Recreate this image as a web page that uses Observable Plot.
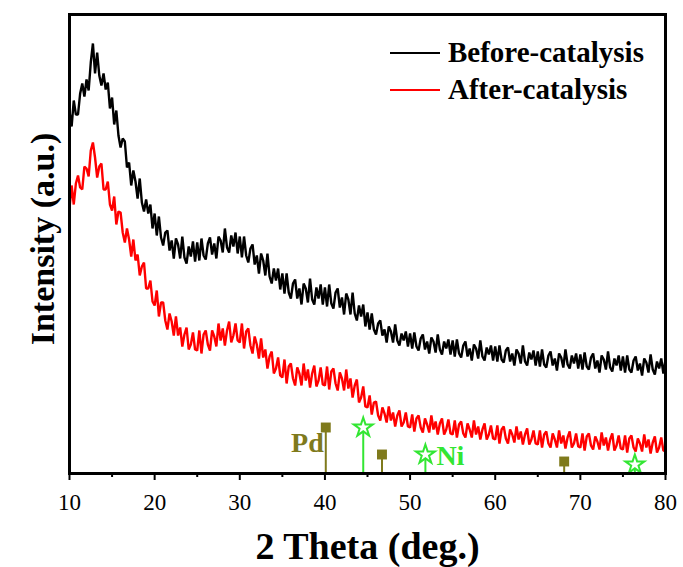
<!DOCTYPE html>
<html>
<head>
<meta charset="utf-8">
<script src="https://cdn.jsdelivr.net/npm/d3@7"></script>
<script src="https://cdn.jsdelivr.net/npm/@observablehq/plot@0.6"></script>
<style>
  html, body { margin: 0; padding: 0; background: #fff; }
  #wrap { position: relative; width: 683px; height: 567px; font-family: "Liberation Serif", "Times New Roman", serif; }
  #legend { position: absolute; left: 390px; top: 34px; }
  .row { display: flex; align-items: center; height: 37px; }
  .swatch { width: 50px; height: 2px; margin-right: 8px; }
  .lab { font-size: 29px; font-weight: bold; line-height: normal; color: #000; white-space: nowrap; }
</style>
</head>
<body>
<div id="wrap"></div>
<script>
// 2θ sampling grid
const twoThetaStart = 10;
const twoThetaStep = 0.25;

// Intensity (a.u.) before catalysis
const beforeIntensity = [
  362,347,373,359,359,380,390,377,394,383,411,430,
  400,421,398,388,400,384,391,365,376,349,363,338,
  326,335,332,306,311,288,303,292,275,295,271,262,
  274,260,269,245,260,238,257,236,228,241,243,223,
  233,215,235,229,215,237,216,210,227,217,232,212,
  231,213,235,218,214,230,236,219,230,215,237,233,
  221,245,226,221,238,227,241,220,237,216,237,218,
  211,225,229,209,218,200,220,213,198,220,197,190,
  205,193,205,184,200,180,200,181,175,190,194,175,
  185,169,190,185,171,195,174,169,186,175,189,169,
  186,167,189,170,165,181,185,166,176,159,180,174,
  159,181,160,153,168,157,169,147,161,144,160,144,
  139,150,153,138,144,131,147,142,131,149,133,128,
  140,133,142,127,140,125,141,127,123,135,139,124,
  132,120,136,132,121,139,124,119,132,125,134,119,
  133,117,134,120,116,128,132,117,125,113,129,125,
  115,133,117,113,126,119,128,113,127,112,128,114,
  111,123,126,112,120,108,124,120,110,128,112,108,
  121,114,123,108,122,107,124,109,106,118,122,108,
  115,103,120,116,106,124,109,105,118,110,120,105,
  119,104,121,107,104,116,120,105,113,101,118,114,
  104,122,106,102,115,108,118,103,117,101,118,104,
  101,113,117,103,110,98,115,111,101,119,104,99,
  112,105,115,100,114
];

// Intensity (a.u.) after catalysis
const afterIntensity = [
  265,288,269,290,298,286,284,307,305,297,323,331,
  316,296,307,310,284,284,292,269,263,277,249,262,
  261,241,231,245,234,217,234,213,219,198,207,211,
  185,185,193,172,168,183,157,171,171,153,144,160,
  152,138,157,138,146,127,139,146,124,129,141,124,
  123,143,120,139,143,129,123,143,137,127,150,133,
  145,128,143,152,131,138,150,133,131,150,125,142,
  145,128,120,137,129,115,135,116,124,105,117,122,
  100,105,116,98,96,114,90,107,110,95,88,106,
  100,88,110,93,104,86,100,108,87,93,106,89,
  88,107,84,102,105,90,83,101,95,83,104,85,
  95,76,88,94,71,76,87,67,66,78,59,71,
  72,58,53,66,60,51,67,53,61,47,58,63,
  47,51,61,47,46,59,42,55,58,46,41,55,
  49,41,58,44,52,39,50,55,39,44,54,40,
  39,53,36,49,52,40,36,50,44,36,53,39,
  47,34,44,50,34,39,48,35,34,48,30,44,
  47,35,30,44,39,31,47,34,42,29,39,45,
  29,34,43,30,29,43,26,39,42,30,26,40,
  34,26,43,30,38,25,36,42,26,30,40,27,
  26,40,23,37,40,28,24,37,32,24,41,28,
  36,23,34,40,23,28,38,25,24,38,21,35,
  38,26,22,35,30,22,39,26,34,20,31,37,
  21,26,36,23,22
];

// Reference patterns (positions in 2θ, stick heights in the same a.u.)
const pdPositions = [40.1, 46.7, 68.1];
const pdHeights = [46, 19, 12];
const niPositions = [44.5, 51.8, 76.4];
const niHeights = [46, 19, 9];

// Axis ticks & labels
const xMajorTicks = [10, 20, 30, 40, 50, 60, 70, 80];
const xMinorTicks = [15, 25, 35, 45, 55, 65, 75];
const xLabel = "2 Theta (deg.)";
const yLabel = "Intensity (a.u.)";
const seriesNames = ["Before-catalysis", "After-catalysis"];
const seriesColors = ["#000000", "#ff0000"];
const pdColor = "#7f7a1c";
const niColor = "#33e633";

const toRows = (arr) => arr.map((v, i) => ({x: twoThetaStart + i * twoThetaStep, y: v}));
const before = toRows(beforeIntensity);
const after = toRows(afterIntensity);
const pd = pdPositions.map((x, i) => ({x, h: pdHeights[i]}));
const ni = niPositions.map((x, i) => ({x, h: niHeights[i]}));

const chart = Plot.plot({
  width: 683,
  height: 567,
  marginLeft: 69,
  marginRight: 18,
  marginTop: 14,
  marginBottom: 94,
  style: {fontFamily: "'Liberation Serif', 'Times New Roman', serif", background: "#fff", color: "#000"},
  x: {domain: [10, 80], axis: null},
  y: {domain: [0, 459], axis: null},
  marks: [
    Plot.line(before, {x: "x", y: "y", stroke: seriesColors[0], strokeWidth: 2.4, strokeLinejoin: "bevel"}),
    Plot.line(after, {x: "x", y: "y", stroke: seriesColors[1], strokeWidth: 2.4, strokeLinejoin: "bevel"}),
    Plot.ruleX(pd, {x: "x", y1: 0, y2: "h", stroke: pdColor, strokeWidth: 2}),
    Plot.dot(pd, {x: "x", y: "h", symbol: "square", r: 5.6, fill: pdColor, stroke: "none"}),
    Plot.ruleX(ni, {x: "x", y1: 0, y2: "h", stroke: niColor, strokeWidth: 2}),
    Plot.dot(ni, {x: "x", y: "h", symbol: "star", r: 6, fill: "white", stroke: niColor, strokeWidth: 2}),
    Plot.text(["Pd"], {x: () => pdPositions[0], frameAnchor: "bottom", dx: -2, dy: -22, textAnchor: "end", lineAnchor: "bottom", fontSize: 28, fontWeight: "bold", fill: pdColor}),
    Plot.text(["Ni"], {x: () => niPositions[1], frameAnchor: "bottom", dx: 11, dy: -9, textAnchor: "start", lineAnchor: "bottom", fontSize: 28, fontWeight: "bold", fill: niColor}),
    Plot.axisX({ticks: xMajorTicks, tickSize: 7, tickPadding: 13, strokeWidth: 2, fontSize: 23, label: null, tickFormat: d => String(d)}),
    Plot.axisX({ticks: xMinorTicks, tickSize: 4, strokeWidth: 2, text: null, label: null}),
    Plot.text([xLabel], {frameAnchor: "bottom", dy: 85, lineAnchor: "bottom", fontSize: 38, fontWeight: "bold"}),
    Plot.text([yLabel], {frameAnchor: "left", rotate: -90, dx: -16, dy: -5, textAnchor: "middle", lineAnchor: "bottom", fontSize: 34, fontWeight: "bold"}),
    Plot.frame({stroke: "black", strokeWidth: 3})
  ]
});

const wrap = document.getElementById("wrap");
wrap.appendChild(chart);

const legend = document.createElement("div");
legend.id = "legend";
seriesNames.forEach((name, i) => {
  const row = document.createElement("div");
  row.className = "row";
  const sw = document.createElement("div");
  sw.className = "swatch";
  sw.style.background = seriesColors[i];
  const lab = document.createElement("span");
  lab.className = "lab";
  lab.textContent = name;
  row.appendChild(sw);
  row.appendChild(lab);
  legend.appendChild(row);
});
wrap.appendChild(legend);
</script>
</body>
</html>
